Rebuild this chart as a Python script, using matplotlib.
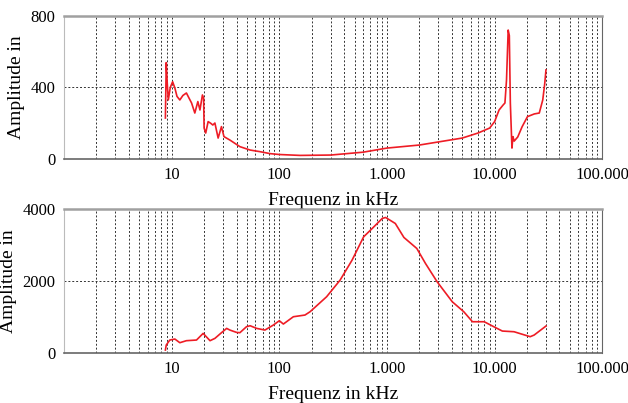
import numpy as np
import matplotlib
matplotlib.use('Agg')
import matplotlib.pyplot as plt
from matplotlib.ticker import FixedLocator, FuncFormatter, NullFormatter

# frequency in kHz, amplitude (upper panel)
f_top = [8.74, 8.9, 9.1, 9.3, 9.7, 10.2, 10.7, 11.2, 11.9, 12.7, 13.7, 14.5, 15.3,
         16.4, 17.5, 18.3, 19.3, 19.8, 20.0, 20.7, 21.8, 23.0, 24.1, 25.2, 27.0,
         29.0, 30.6, 34.7, 43.0, 53.5, 66.0, 82.0, 100.0, 156.0, 300.0, 600.0,
         1000.0, 2000.0, 5000.0, 7000.0, 9000.0, 10000.0, 11000.0, 12000.0,
         12470.0, 12900.0, 13370.0, 13700.0, 14000.0, 14490.0, 14800.0, 15200.0,
         16400.0, 18000.0, 20200.0, 23400.0, 26000.0, 28000.0, 29200.0, 30000.0]
a_top = [229, 539, 420, 330, 400, 432, 397, 350, 330, 355, 369, 340, 313,
         257, 321, 274, 358, 340, 173, 145, 209, 200, 190, 201, 117,
         181, 125, 106, 69, 50, 41, 30, 25, 20, 22, 38,
         61, 78, 117, 145, 173, 209, 274, 302,
         313, 442, 721, 690, 313, 61, 125, 100,
         123, 180, 237, 252, 257, 330, 420, 498]

# frequency in kHz, amplitude (lower panel)
f_bot = [8.74, 8.9, 9.6, 10.7, 11.9, 13.7, 17.0, 19.6, 22.7, 25.2, 29.0, 32.4,
         34.7, 40.0, 43.0, 49.5, 53.5, 61.6, 73.5, 88.0, 100.0, 109.0, 135.0,
         173.0, 193.0, 275.0, 367.0, 474.0, 607.0, 729.0, 903.0, 971.0, 1195.0,
         1437.0, 1893.0, 2278.0, 2924.0, 4043.0, 5171.0, 6225.0, 8006.0, 9832.0,
         11800.0, 15150.0, 21400.0, 23300.0, 30000.0]
a_bot = [83, 222, 361, 389, 287, 343, 361, 546, 343, 407, 565, 685,
         639, 574, 565, 731, 759, 685, 639, 778, 898, 806, 1009,
         1056, 1148, 1565, 2028, 2583, 3231, 3463, 3741, 3769, 3602,
         3213, 2907, 2491, 1981, 1425, 1148, 870, 870, 731,
         611, 592, 454, 500, 750]

plt.rcParams['font.family'] = ['Liberation Serif', 'DejaVu Serif']

fig = plt.figure(figsize=(6.28, 4.03), dpi=100)
ax1 = fig.add_axes([0.102, 0.6055, 0.857, 0.355])
ax2 = fig.add_axes([0.102, 0.124, 0.857, 0.357])

def de_fmt(v, pos):
    return f"{int(round(v)):,}".replace(',', '.')

minors = [m * 10 ** d for d in range(0, 5) for m in range(2, 10)]

for ax, f, a, ymax in [(ax1, f_top, a_top, 800), (ax2, f_bot, a_bot, 4000)]:
    ax.plot(f, a, color='#ee1c25', lw=1.2)
    ax.set_xscale('log')
    ax.set_xlim(1, 100000)
    ax.set_ylim(0, ymax)
    ax.xaxis.set_major_locator(FixedLocator([10, 100, 1000, 10000, 100000]))
    ax.xaxis.set_minor_locator(FixedLocator(minors))
    ax.xaxis.set_major_formatter(FuncFormatter(de_fmt))
    ax.xaxis.set_minor_formatter(NullFormatter())
    ax.set_yticks([0, ymax / 2, ymax])
    ax.yaxis.set_major_formatter(FuncFormatter(lambda v, p: str(int(v))))
    ax.grid(True, which='both', axis='x', color='#333333', ls=(0, (2, 2)), lw=0.7)
    ax.grid(True, which='major', axis='y', color='#333333', ls=(0, (2, 2)), lw=0.7)
    ax.tick_params(axis='both', which='both', length=0, labelsize=12, pad=6)
    ax.spines['top'].set_color('#a0a0a0')
    ax.spines['top'].set_linewidth(1.8)
    ax.spines['left'].set_color('#bbbbbb')
    ax.spines['left'].set_linewidth(0.8)
    ax.spines['right'].set_color('#666666')
    ax.spines['bottom'].set_color('#666666')
    ax.spines['bottom'].set_linewidth(1.2)
    ax.set_xlabel('Frequenz in kHz', fontsize=14, labelpad=6)
    ax.set_ylabel('Amplitude in', fontsize=14, labelpad=4)

fig.savefig('out.png', dpi=100)
